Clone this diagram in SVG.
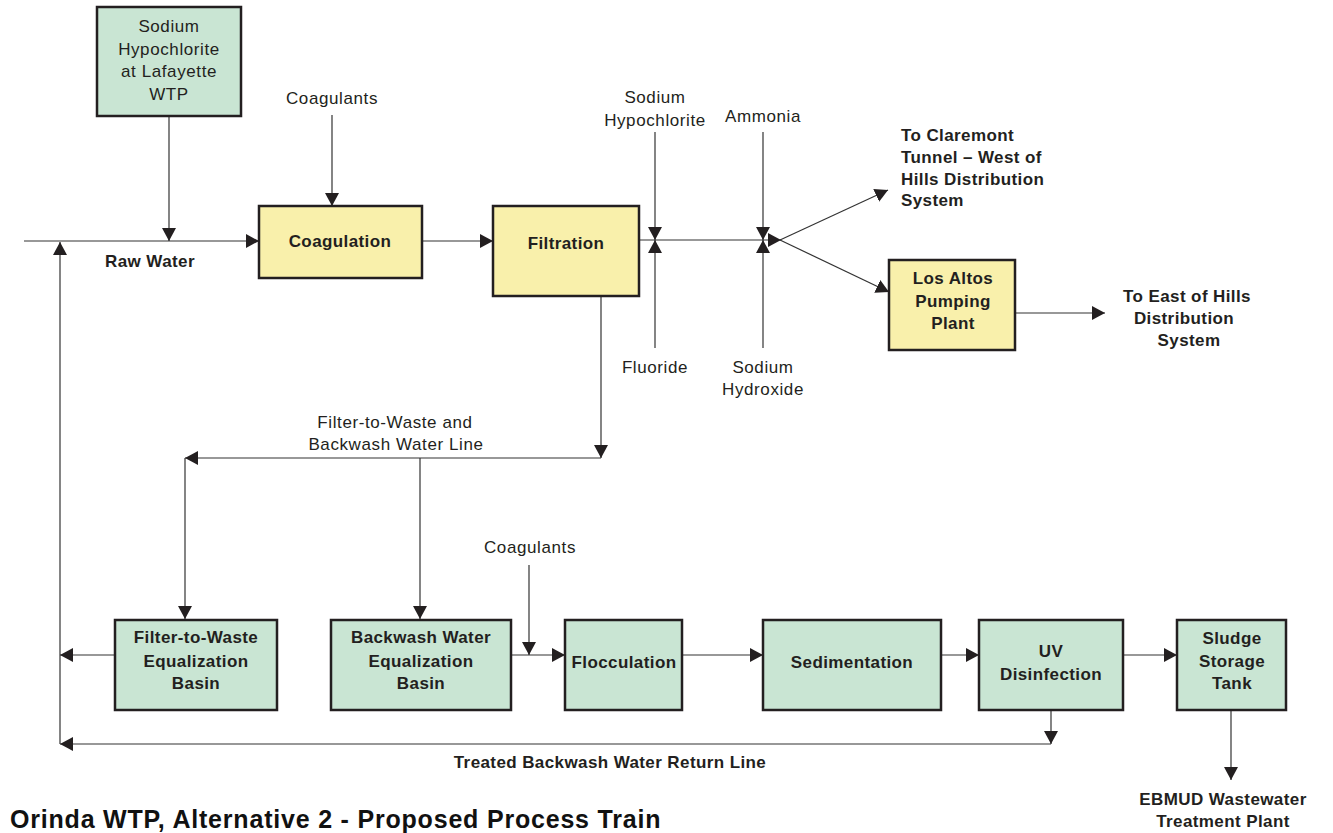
<svg xmlns="http://www.w3.org/2000/svg" width="1333" height="833" viewBox="0 0 1333 833">
  <defs>
    <marker id="arr" viewBox="0 0 13 14" refX="13" refY="7" markerWidth="13" markerHeight="14" markerUnits="userSpaceOnUse" orient="auto">
      <path d="M0,0 L13,7 L0,14 z" fill="#231f20"/>
    </marker>
  </defs>
  <style>
    .green { fill: #c9e5d3; stroke: #231f20; stroke-width: 2.5; }
    .yellow { fill: #f9f0ab; stroke: #231f20; stroke-width: 2.5; }
    .arrow { fill: none; stroke: #333; stroke-width: 1.2; marker-end: url(#arr); }
    .lbl { font-family: "Liberation Sans", Arial, sans-serif; font-size: 17px; letter-spacing: 0.6px; fill: #231f20; text-anchor: middle; }
    .bold { font-family: "Liberation Sans", Arial, sans-serif; font-size: 17px; letter-spacing: 0.4px; font-weight: bold; fill: #231f20; text-anchor: middle; }
    .boldl { font-family: "Liberation Sans", Arial, sans-serif; font-size: 17px; letter-spacing: 0.4px; font-weight: bold; fill: #231f20; text-anchor: start; }
    .title { font-family: "Liberation Sans", Arial, sans-serif; font-size: 25px; letter-spacing: 0.8px; font-weight: bold; fill: #111; }
  </style>
  <rect width="1333" height="833" fill="#ffffff"/>

  <!-- connectors -->
  <g id="connectors">
    <!-- raw water main line -->
    <line class="arrow" x1="24" y1="241" x2="259" y2="241"/>
    <line class="arrow" x1="169" y1="116" x2="169" y2="241"/>
    <line class="arrow" x1="332" y1="115" x2="332" y2="206"/>
    <line class="arrow" x1="422" y1="241" x2="493" y2="241"/>
    <!-- finished water line and chemical feeds -->
    <line class="arrow" x1="637" y1="240" x2="781" y2="240"/>
    <line class="arrow" x1="655" y1="132" x2="655" y2="240"/>
    <line class="arrow" x1="655" y1="348" x2="655" y2="240"/>
    <line class="arrow" x1="763" y1="132" x2="763" y2="240"/>
    <line class="arrow" x1="763" y1="348" x2="763" y2="240"/>
    <line class="arrow" x1="780" y1="240" x2="888" y2="190"/>
    <line class="arrow" x1="780" y1="240" x2="889" y2="292"/>
    <line class="arrow" x1="1015" y1="313" x2="1105" y2="313"/>
    <!-- filter-to-waste and backwash water line -->
    <line class="arrow" x1="601" y1="296" x2="601" y2="458"/>
    <line class="arrow" x1="601" y1="458" x2="185" y2="458"/>
    <line class="arrow" x1="185" y1="458" x2="185" y2="619"/>
    <line class="arrow" x1="420" y1="458" x2="420" y2="619"/>
    <!-- solids train -->
    <line class="arrow" x1="115" y1="655" x2="60" y2="655"/>
    <line class="arrow" x1="511" y1="655" x2="565" y2="655"/>
    <line class="arrow" x1="529" y1="565" x2="529" y2="655"/>
    <line class="arrow" x1="682" y1="655" x2="763" y2="655"/>
    <line class="arrow" x1="941" y1="655" x2="979" y2="655"/>
    <line class="arrow" x1="1123" y1="655" x2="1177" y2="655"/>
    <!-- treated backwash water return -->
    <line class="arrow" x1="1051" y1="710" x2="1051" y2="744"/>
    <line class="arrow" x1="1051" y1="744" x2="60" y2="744"/>
    <line class="arrow" x1="60" y1="744" x2="60" y2="242"/>
    <!-- sludge to wastewater plant -->
    <line class="arrow" x1="1231" y1="710" x2="1231" y2="780"/>
  </g>

  <!-- free labels -->
  <g id="labels">
    <text class="lbl" x="332" y="104">Coagulants</text>
    <text class="bold" x="150" y="267">Raw Water</text>
    <text class="lbl" x="655" y="103">Sodium</text>
    <text class="lbl" x="655" y="126">Hypochlorite</text>
    <text class="lbl" x="763" y="122">Ammonia</text>
    <text class="lbl" x="655" y="373">Fluoride</text>
    <text class="lbl" x="763" y="373">Sodium</text>
    <text class="lbl" x="763" y="395">Hydroxide</text>
    <text class="boldl" x="901" y="141">To Claremont</text>
    <text class="boldl" x="901" y="163">Tunnel – West of</text>
    <text class="boldl" x="901" y="185">Hills Distribution</text>
    <text class="boldl" x="901" y="206">System</text>
    <text class="bold" x="1187" y="302">To East of Hills</text>
    <text class="bold" x="1184" y="324">Distribution</text>
    <text class="bold" x="1189" y="346">System</text>
    <text class="lbl" x="395" y="428">Filter-to-Waste and</text>
    <text class="lbl" x="396" y="450">Backwash Water Line</text>
    <text class="lbl" x="530" y="553">Coagulants</text>
    <text class="bold" x="610" y="768">Treated Backwash Water Return Line</text>
    <text class="bold" x="1223" y="805">EBMUD Wastewater</text>
    <text class="bold" x="1223" y="827">Treatment Plant</text>
    <text class="title" x="10" y="828">Orinda WTP, Alternative 2 - Proposed Process Train</text>
  </g>

  <!-- nodes -->
  <g id="hypochlorite-lafayette">
    <rect class="green" x="97" y="7" width="144" height="109"/>
    <text class="lbl" x="169" y="32">Sodium</text>
    <text class="lbl" x="169" y="55">Hypochlorite</text>
    <text class="lbl" x="169" y="77">at Lafayette</text>
    <text class="lbl" x="169" y="100">WTP</text>
  </g>
  <g id="coagulation">
    <rect class="yellow" x="259" y="206" width="163" height="72"/>
    <text class="bold" x="340" y="247">Coagulation</text>
  </g>
  <g id="filtration">
    <rect class="yellow" x="493" y="206" width="146" height="90"/>
    <text class="bold" x="566" y="249">Filtration</text>
  </g>
  <g id="los-altos">
    <rect class="yellow" x="889" y="260" width="126" height="90"/>
    <text class="bold" x="953" y="284">Los Altos</text>
    <text class="bold" x="953" y="307">Pumping</text>
    <text class="bold" x="953" y="329">Plant</text>
  </g>
  <g id="ftw-basin">
    <rect class="green" x="115" y="620" width="162" height="90"/>
    <text class="bold" x="196" y="643">Filter-to-Waste</text>
    <text class="bold" x="196" y="667">Equalization</text>
    <text class="bold" x="196" y="689">Basin</text>
  </g>
  <g id="bw-basin">
    <rect class="green" x="331" y="620" width="180" height="90"/>
    <text class="bold" x="421" y="643">Backwash Water</text>
    <text class="bold" x="421" y="667">Equalization</text>
    <text class="bold" x="421" y="689">Basin</text>
  </g>
  <g id="flocculation">
    <rect class="green" x="565" y="620" width="117" height="90"/>
    <text class="bold" x="624" y="668">Flocculation</text>
  </g>
  <g id="sedimentation">
    <rect class="green" x="763" y="620" width="178" height="90"/>
    <text class="bold" x="852" y="668">Sedimentation</text>
  </g>
  <g id="uv-disinfection">
    <rect class="green" x="979" y="620" width="144" height="90"/>
    <text class="bold" x="1051" y="657">UV</text>
    <text class="bold" x="1051" y="680">Disinfection</text>
  </g>
  <g id="sludge-tank">
    <rect class="green" x="1177" y="620" width="109" height="90"/>
    <text class="bold" x="1232" y="644">Sludge</text>
    <text class="bold" x="1232" y="667">Storage</text>
    <text class="bold" x="1232" y="689">Tank</text>
  </g>
</svg>
